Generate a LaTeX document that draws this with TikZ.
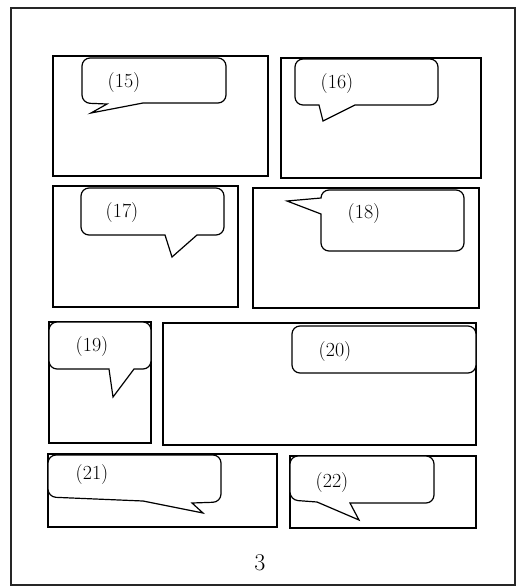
\documentclass[tikz,border=0pt]{standalone}
\begin{document}
\begin{tikzpicture}[x=1pt,y=-1pt,
  frame/.style={draw=black!85,line width=1.1pt},
  panel/.style={draw=black,line width=1.3pt},
  bubble/.style={draw=black,line width=1.2pt,fill=white},
  lbl/.style={font=\fontsize{20}{22}\selectfont,inner sep=0pt},
  pagenum/.style={font=\fontsize{24}{26}\selectfont,inner sep=0pt}]
\useasboundingbox (0,0) rectangle (517,587);
% outer page frame
\draw[frame] (11,8) rectangle (515,585);
% panels
\draw[panel] (53,56) rectangle (268,176);
\draw[panel] (281,58) rectangle (481,178);
\draw[panel] (53,186) rectangle (238,307);
\draw[panel] (253,188) rectangle (479,308);
\draw[panel] (49,322) rectangle (151,443);
\draw[panel] (163,323) rectangle (476,445);
\draw[panel] (48,454) rectangle (277,527);
\draw[panel] (290,456) rectangle (476,528);
% bubble 15
\draw[bubble] (150,58) [rounded corners=8] -- (226,58) -- (226,103) [sharp corners] -- (143,103) -- (91,113) -- (107,104) [rounded corners=8] -- (82,103) -- (82,58) -- (150,58);
% bubble 16
\draw[bubble] (360,59) [rounded corners=8] -- (438,59) -- (438,105) [sharp corners] -- (355,105) -- (323,121) -- (319,105) [rounded corners=8] -- (295,105) -- (295,59) -- (360,59);
% bubble 17
\draw[bubble] (150,188) [rounded corners=8] -- (224,188) -- (224,235) [sharp corners] -- (197,235) -- (172,257) -- (165,235) [rounded corners=8] -- (81,235) -- (81,188) -- (150,188);
% bubble 18
\draw[bubble] (390,190) [rounded corners=8] -- (464,190) -- (464,251) -- (321,251) [sharp corners] -- (321,214) -- (287,201) -- (321,198) [rounded corners=8] -- (321,190) -- (390,190);
% bubble 19
\draw[bubble] (100,322) [rounded corners=8] -- (151,322) -- (151,369) [sharp corners] -- (134,369) -- (113,397) -- (109,369) [rounded corners=8] -- (49,369) -- (49,322) -- (100,322);
% bubble 20
\draw[bubble] (292,326) [rounded corners=8] rectangle (476,373);
% bubble 21
\draw[bubble] (130,455) [rounded corners=8] -- (221,455) -- (221,502) [sharp corners] -- (192,503) -- (203,513) -- (143,501) [rounded corners=8] -- (48,497) -- (48,455) -- (130,455);
% bubble 22
\draw[bubble] (360,456) [rounded corners=8] -- (434,456) -- (434,503) [sharp corners] -- (350,503) -- (359,520) -- (317,502) [rounded corners=8] -- (290,500) -- (290,456) -- (360,456);
% labels
\node[lbl] (t15) at (124,83) {(15)};
\node[lbl] (t16) at (337,84) {(16)};
\node[lbl] (t17) at (122,213) {(17)};
\node[lbl] (t18) at (364,214) {(18)};
\node[lbl] (t19) at (92,347) {(19)};
\node[lbl] (t20) at (335,352) {(20)};
\node[lbl] (t21) at (92,475) {(21)};
\node[lbl] (t22) at (332,483) {(22)};
\node[pagenum] (pg) at (260,563) {3};
\end{tikzpicture}
\end{document}
